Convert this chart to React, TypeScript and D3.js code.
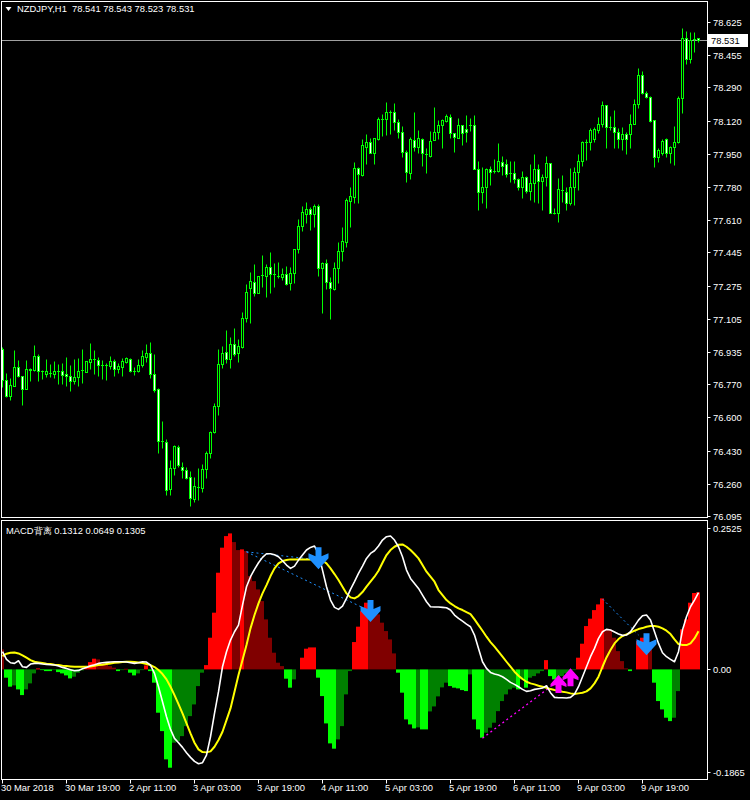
import React from 'react';
import * as d3 from 'd3';

// ---------- header texts ----------
const symbolTitle = 'NZDJPY,H1';
const quoteValues = ['78.541', '78.543', '78.523', '78.531'];
const indicatorTitle = 'MACD背离';
const indicatorValues = ['0.1312', '0.0649', '0.1305'];
const currentPrice = 78.531;

// ---------- OHLC (hourly bars) ----------
const openPrices = [
76.951,76.792,76.712,76.763,76.857,76.814,76.744,76.847,76.843,76.913,
76.840,76.824,76.826,76.824,76.840,76.840,76.821,76.811,76.788,76.807,
76.843,76.834,76.883,76.897,76.893,76.870,76.870,76.865,76.888,76.850,
76.860,76.886,76.900,76.836,76.836,76.870,76.911,76.930,76.823,76.744,
76.480,76.473,76.232,76.340,76.447,76.347,76.330,76.294,76.184,76.243,
76.238,76.335,76.417,76.524,76.657,76.872,76.934,76.901,76.975,76.929,
76.963,77.109,77.262,77.295,77.236,77.330,77.326,77.369,77.333,77.326,
77.321,77.333,77.290,77.338,77.461,77.581,77.642,77.667,77.642,77.681,
77.367,77.390,77.295,77.258,77.364,77.454,77.500,77.710,77.730,77.876,
77.842,77.986,78.009,77.953,78.026,78.130,78.130,78.166,78.163,78.114,
78.063,77.958,77.853,78.021,77.987,78.024,77.948,77.939,78.021,78.063,
78.098,78.120,78.137,78.055,78.033,78.098,78.076,78.098,78.098,77.871,
77.756,77.782,77.872,77.864,77.864,77.910,77.898,77.850,77.850,77.820,
77.782,77.830,77.761,77.799,77.871,77.811,77.833,77.901,77.646,77.646,
77.765,77.753,77.700,77.779,77.858,77.915,78.012,78.012,78.026,78.072,
78.103,78.200,78.089,78.086,78.060,78.024,78.050,78.050,78.101,78.204,
78.354,78.263,78.243,78.123,77.935,77.956,78.024,77.953,77.984,78.009,
78.234,78.542,78.434,78.536,78.541];
const highPrices = [
76.959,76.826,76.801,76.946,76.894,76.814,76.894,76.852,76.971,76.925,
76.843,76.900,76.874,76.889,76.874,76.879,76.910,76.869,76.900,76.905,
76.951,76.888,76.981,76.946,76.908,76.893,76.878,76.915,76.900,76.878,
76.905,76.908,76.905,76.857,76.900,76.946,76.976,76.987,76.925,76.749,
76.582,76.490,76.382,76.459,76.459,76.372,76.348,76.328,76.295,76.341,
76.362,76.428,76.531,76.674,76.951,76.966,77.048,77.011,77.058,77.002,
77.140,77.284,77.347,77.386,77.326,77.432,77.386,77.446,77.390,77.395,
77.364,77.376,77.370,77.461,77.615,77.683,77.703,77.679,77.695,77.692,
77.395,77.412,77.321,77.398,77.500,77.575,77.722,77.779,77.908,77.881,
78.026,78.051,78.029,78.033,78.137,78.154,78.214,78.174,78.209,78.127,
78.093,77.970,78.038,78.163,78.072,78.033,77.978,78.068,78.188,78.123,
78.128,78.152,78.154,78.058,78.132,78.098,78.149,78.132,78.149,77.913,
77.881,77.876,77.888,77.922,78.004,77.939,77.922,77.913,77.913,77.828,
77.864,77.836,77.898,77.948,77.898,77.847,77.939,77.901,77.671,77.828,
77.842,77.782,77.879,77.884,77.948,78.017,78.024,78.081,78.086,78.137,
78.221,78.200,78.144,78.174,78.081,78.089,78.063,78.152,78.229,78.391,
78.374,78.273,78.246,78.123,77.978,78.024,78.029,77.992,78.093,78.246,
78.593,78.580,78.575,78.572,78.543];
const lowPrices = [
76.755,76.707,76.690,76.763,76.809,76.664,76.744,76.787,76.840,76.788,
76.799,76.809,76.809,76.804,76.771,76.771,76.761,76.736,76.770,76.761,
76.777,76.834,76.848,76.823,76.814,76.797,76.792,76.848,76.814,76.828,
76.811,76.878,76.833,76.818,76.833,76.860,76.883,76.804,76.732,76.420,
76.442,76.200,76.200,76.306,76.345,76.292,76.284,76.148,76.167,76.178,
76.219,76.292,76.393,76.522,76.614,76.855,76.881,76.855,76.915,76.886,
76.954,77.089,77.084,77.224,77.236,77.270,77.219,77.236,77.270,77.316,
77.304,77.278,77.253,77.287,77.441,77.556,77.597,77.560,77.574,77.326,
77.137,77.256,77.106,77.253,77.290,77.401,77.475,77.577,77.697,77.700,
77.836,77.898,77.953,77.898,78.021,78.043,78.046,78.051,78.072,78.033,
77.935,77.807,77.821,77.964,77.953,77.889,77.853,77.935,78.021,78.026,
77.981,78.114,78.033,77.961,78.033,77.995,78.012,78.067,77.871,77.662,
77.697,77.674,77.790,77.850,77.858,77.842,77.833,77.807,77.799,77.765,
77.722,77.748,77.714,77.705,77.697,77.662,77.785,77.646,77.640,77.603,
77.705,77.662,77.688,77.688,77.765,77.889,77.918,77.970,78.012,78.058,
78.089,77.978,78.072,77.981,77.978,77.970,77.948,77.978,78.101,78.183,
78.256,78.234,78.114,77.884,77.910,77.944,77.935,77.901,77.893,78.004,
78.158,78.410,78.413,78.473,78.523];
const closePrices = [
76.792,76.712,76.766,76.857,76.814,76.744,76.847,76.845,76.913,76.840,
76.840,76.836,76.826,76.840,76.840,76.819,76.811,76.788,76.807,76.840,
76.843,76.888,76.898,76.897,76.870,76.870,76.870,76.888,76.850,76.864,
76.889,76.905,76.836,76.836,76.867,76.915,76.930,76.821,76.742,76.480,
76.478,76.229,76.340,76.454,76.355,76.330,76.292,76.186,76.248,76.243,
76.335,76.418,76.524,76.657,76.872,76.929,76.901,76.975,76.925,76.965,
77.109,77.243,77.301,77.236,77.326,77.330,77.372,77.333,77.333,77.326,
77.333,77.284,77.338,77.461,77.581,77.651,77.667,77.642,77.681,77.364,
77.391,77.295,77.262,77.364,77.451,77.504,77.714,77.734,77.876,77.847,
77.995,78.009,77.956,78.029,78.127,78.130,78.166,78.166,78.114,78.063,
77.958,77.858,78.024,77.987,78.029,77.953,77.948,78.017,78.063,78.098,
78.123,78.144,78.055,78.035,78.098,78.058,78.063,78.098,77.871,77.756,
77.782,77.872,77.858,77.864,77.913,77.889,77.845,77.850,77.821,77.782,
77.830,77.761,77.799,77.872,77.811,77.833,77.901,77.649,77.646,77.768,
77.765,77.700,77.779,77.858,77.915,78.009,78.012,78.072,78.076,78.103,
78.200,78.089,78.089,78.060,78.024,78.050,78.024,78.101,78.204,78.354,
78.263,78.239,78.118,77.935,77.970,78.017,77.953,77.984,78.009,78.237,
78.542,78.434,78.533,78.536,78.531];

// ---------- MACD divergence indicator ----------
const histValues = [
0.0340,-0.0141,-0.0294,-0.0272,-0.0340,-0.0437,-0.0340,-0.0238,-0.0068,0.0017,
-0.0012,-0.0029,-0.0029,-0.0012,-0.0046,-0.0068,-0.0102,-0.0153,-0.0124,-0.0056,
-0.0017,0.0056,0.0124,0.0182,0.0170,0.0114,0.0085,0.0056,0.0029,-0.0029,
-0.0012,0.0009,-0.0056,-0.0102,-0.0068,-0.0012,0.0068,-0.0029,-0.0226,-0.0737,
-0.1050,-0.1531,-0.1673,-0.1247,-0.1220,-0.1135,-0.0965,-0.0795,-0.0596,-0.0284,
-0.0056,0.0073,0.0539,0.0965,0.1645,0.2071,0.2268,0.2314,0.2166,0.2030,
0.2042,0.2013,0.1588,0.1502,0.1361,0.1162,0.0851,0.0539,0.0284,0.0114,
0.0056,-0.0158,-0.0311,-0.0170,0,0.0199,0.0352,0.0374,0.0374,-0.0141,
-0.0454,-0.0919,-0.1259,-0.1349,-0.1191,-0.0965,-0.0425,-0.0029,0.0465,0.0727,
0.0992,0.1135,0.1021,0.0965,0.0936,0.0795,0.0652,0.0510,0.0272,-0.0056,
-0.0396,-0.0851,-0.0936,-0.1004,-0.0987,-0.1021,-0.1021,-0.0715,-0.0630,-0.0459,
-0.0306,-0.0226,-0.0284,-0.0311,-0.0323,-0.0352,-0.0369,-0.0085,-0.0851,-0.1021,
-0.1162,-0.1077,-0.0992,-0.0907,-0.0710,-0.0539,-0.0425,-0.0340,-0.0311,-0.0340,
-0.0170,-0.0311,-0.0141,-0.0114,-0.0068,-0.0029,0.0158,-0.0114,-0.0170,-0.0141,
-0.0114,-0.0068,-0.0029,-0.0012,0.0199,0.0437,0.0737,0.0863,0.1009,0.1106,
0.1208,0.0681,0.0675,0.0539,0.0311,0.0141,0.0017,-0.0029,0,0.0482,
0.0539,0.0596,0.0369,-0.0226,-0.0539,-0.0681,-0.0822,-0.0880,-0.0822,-0.0369,
0.0681,0.0851,0.1135,0.1300,0.1312];
const macdLine = [
0.0301,0.0170,0.0113,0.0102,0.0147,0.0045,0.0034,0.0091,0.0102,0.0102,
0.0091,0.0085,0.0079,0.0074,0.0057,0.0034,0.0017,-0.0006,-0.0023,-0.0017,
0.0011,0.0034,0.0062,0.0079,0.0102,0.0113,0.0119,0.0125,0.0130,0.0130,
0.0130,0.0125,0.0113,0.0102,0.0113,0.0130,0.0125,0.0074,-0.0068,-0.0295,
-0.0550,-0.0805,-0.1021,-0.1174,-0.1248,-0.1327,-0.1418,-0.1497,-0.1566,-0.1605,
-0.1588,-0.1458,-0.1146,-0.0749,-0.0380,0.0045,0.0301,0.0499,0.0641,0.0754,
0.1095,0.1407,0.1577,0.1702,0.1815,0.1906,0.1968,0.1968,0.1951,0.1917,
0.1849,0.1775,0.1719,0.1758,0.1860,0.1946,0.2031,0.2076,0.2099,0.1974,
0.1690,0.1407,0.1180,0.1055,0.1021,0.1078,0.1208,0.1361,0.1492,0.1634,
0.1758,0.1889,0.1974,0.2019,0.2099,0.2201,0.2258,0.2269,0.2201,0.2087,
0.1917,0.1690,0.1548,0.1463,0.1378,0.1265,0.1151,0.1066,0.1061,0.1061,
0.1055,0.1049,0.1010,0.0925,0.0868,0.0822,0.0771,0.0726,0.0584,0.0357,
0.0130,0.0017,-0.0051,-0.0079,-0.0096,-0.0125,-0.0170,-0.0221,-0.0255,-0.0295,
-0.0340,-0.0374,-0.0363,-0.0340,-0.0329,-0.0318,-0.0278,-0.0397,-0.0476,-0.0482,
-0.0482,-0.0488,-0.0476,-0.0420,-0.0295,-0.0125,0.0045,0.0216,0.0357,0.0528,
0.0641,0.0681,0.0669,0.0635,0.0601,0.0579,0.0584,0.0641,0.0737,0.0839,
0.0913,0.0925,0.0839,0.0641,0.0442,0.0284,0.0216,0.0170,0.0130,0.0301,
0.0669,0.0896,0.1066,0.1180,0.1305];
const signalLine = [
0.0227,0.0267,0.0284,0.0289,0.0272,0.0238,0.0199,0.0159,0.0130,0.0119,
0.0108,0.0096,0.0091,0.0079,0.0074,0.0062,0.0057,0.0051,0.0045,0.0045,
0.0045,0.0045,0.0051,0.0062,0.0074,0.0079,0.0091,0.0102,0.0113,0.0119,
0.0125,0.0130,0.0130,0.0125,0.0119,0.0108,0.0091,0.0074,0.0040,-0.0011,
-0.0079,-0.0170,-0.0295,-0.0437,-0.0590,-0.0749,-0.0919,-0.1089,-0.1248,-0.1361,
-0.1407,-0.1412,-0.1395,-0.1316,-0.1202,-0.1061,-0.0862,-0.0664,-0.0380,-0.0096,
0.0159,0.0414,0.0698,0.0925,0.1123,0.1293,0.1435,0.1588,0.1719,0.1804,
0.1843,0.1860,0.1872,0.1872,0.1872,0.1872,0.1872,0.1872,0.1872,0.1866,
0.1849,0.1804,0.1719,0.1622,0.1520,0.1407,0.1293,0.1225,0.1208,0.1248,
0.1316,0.1407,0.1492,0.1577,0.1679,0.1815,0.1946,0.2031,0.2087,0.2121,
0.2127,0.2087,0.2031,0.1963,0.1889,0.1775,0.1662,0.1577,0.1492,0.1350,
0.1265,0.1180,0.1123,0.1078,0.1038,0.1010,0.0975,0.0942,0.0851,0.0754,
0.0658,0.0556,0.0465,0.0386,0.0301,0.0216,0.0130,0.0045,-0.0040,-0.0108,
-0.0164,-0.0210,-0.0238,-0.0255,-0.0278,-0.0295,-0.0312,-0.0335,-0.0352,-0.0363,
-0.0380,-0.0391,-0.0408,-0.0420,-0.0408,-0.0397,-0.0374,-0.0323,-0.0238,-0.0125,
0.0045,0.0204,0.0329,0.0442,0.0516,0.0567,0.0596,0.0624,0.0658,0.0686,
0.0703,0.0726,0.0737,0.0737,0.0726,0.0698,0.0658,0.0601,0.0510,0.0431,
0.0414,0.0414,0.0442,0.0527,0.0649];

// divergence signals: [bar, value]
const downArrowBars = [79, 92, 161];
const downArrowValues = [0.208, 0.118, 0.0614];
const upArrowBars = [139, 142];
const upArrowValues = [-0.0095, 0.0019];
const bearDivStartBars = [61, 61, 150];
const bearDivStartValues = [0.200, 0.200, 0.1198];
const bearDivEndBars = [77, 91, 159];
const bearDivEndValues = [0.188, 0.102, 0.0585];
const bullDivStartBars = [120];
const bullDivStartValues = [-0.117];
const bullDivEndBars = [137];
const bullDivEndValues = [-0.0294];

// ---------- axes ----------
const priceTicks = [78.625, 78.455, 78.290, 78.120, 77.950, 77.780, 77.610, 77.445,
  77.275, 77.105, 76.935, 76.770, 76.600, 76.430, 76.260, 76.095];
const macdTicks = [0.2525, 0, -0.1865];
const macdTickLabels = ['0.2525', '0.00', '-0.1865'];
const timeTickBars = [0, 16, 32, 48, 64, 80, 96, 112, 128, 144, 160];
const timeTickLabels = ['30 Mar 2018', '30 Mar 19:00', '2 Apr 11:00', '3 Apr 03:00',
  '3 Apr 19:00', '4 Apr 11:00', '5 Apr 03:00', '5 Apr 19:00', '6 Apr 11:00',
  '9 Apr 03:00', '9 Apr 19:00'];

// ---------- layout ----------
const W = 750;
const H = 800;
const L = 1.5;
const R = 707.5;
const mainTop = 1.5;
const mainBottom = 517.5;
const macdTop = 520.5;
const macdBottom = 779.5;
const FONT = "'Liberation Sans', Arial, sans-serif";
const FS = 9.4;

const N = closePrices.length;
const x = d3.scaleLinear().domain([0, N - 1]).range([2.5, 2.5 + 4 * (N - 1)]);
const yP = d3.scaleLinear().domain([76.095, 78.625]).range([516, 22]);
const yM = d3.scaleLinear().domain([-0.1865, 0.2525]).range([779, 521]);

const GREEN = '#00FF00';

function histColor(i: number): string {
  const v = histValues[i];
  const p = i > 0 ? histValues[i - 1] : Infinity;
  if (v >= 0) return v >= p ? '#FF0000' : '#800000';
  return v <= p ? '#00FF00' : '#008000';
}

function downArrowPath(cx: number, top: number): string {
  return `M${cx - 3},${top} L${cx + 3},${top} L${cx + 3},${top + 9} L${cx + 10},${top + 6} L${cx + 10},${top + 11} L${cx},${top + 22} L${cx - 10},${top + 11} L${cx - 10},${top + 6} L${cx - 3},${top + 9} Z`;
}
function upArrowPath(cx: number, tip: number): string {
  return `M${cx},${tip} L${cx + 8},${tip + 9} L${cx + 8},${tip + 12} L${cx + 3},${tip + 10} L${cx + 3},${tip + 18} L${cx - 3},${tip + 18} L${cx - 3},${tip + 10} L${cx - 8},${tip + 12} L${cx - 8},${tip + 9} Z`;
}

export default function App() {
  const macdPath = d3.line<number>().x((_, i) => x(i)).y((v) => yM(v))(macdLine) || '';
  const signalPath = d3.line<number>().x((_, i) => x(i)).y((v) => yM(v))(signalLine) || '';

  const candles = closePrices.map((c, i) => {
    const o = openPrices[i];
    const cx = x(i);
    const yo = yP(o);
    const yc = yP(c);
    const top = Math.round(Math.min(yo, yc));
    const bot = Math.round(Math.max(yo, yc));
    const wick = (
      <line key={`w${i}`} x1={cx} x2={cx} y1={Math.round(yP(highPrices[i])) + 0.5}
        y2={Math.round(yP(lowPrices[i])) + 0.5} stroke={GREEN} strokeWidth={1} />
    );
    let body;
    if (bot - top < 1) {
      body = <line key={`b${i}`} x1={cx - 1.5} x2={cx + 1.5} y1={top + 0.5} y2={top + 0.5} stroke={GREEN} strokeWidth={1} />;
    } else {
      body = <rect key={`b${i}`} x={cx - 1} y={top + 0.5} width={2} height={bot - top}
        fill={c < o ? '#FFFFFF' : '#000000'} stroke={GREEN} strokeWidth={1} />;
    }
    return <g key={i}>{wick}{body}</g>;
  });

  const zeroY = yM(0);
  const bars = histValues.map((v, i) => {
    if (v === 0) return null;
    const yv = yM(v);
    const x0 = x(i) - 2.5;
    return <rect key={i} x={x0} y={Math.min(yv, zeroY)} width={4} height={Math.abs(yv - zeroY)} fill={histColor(i)} />;
  });

  const textStyle: React.CSSProperties = { whiteSpace: 'pre' };

  return (
    <svg width={W} height={H} style={{ position: 'fixed', left: 0, top: 0, background: '#000' }}
      fontFamily={FONT} fontSize={FS}>
      <defs>
        <clipPath id="clipMain"><rect x={L} y={mainTop} width={R - L} height={mainBottom - mainTop} /></clipPath>
        <clipPath id="clipMacd"><rect x={L} y={macdTop} width={R - L} height={macdBottom - macdTop} /></clipPath>
      </defs>
      <rect x={0} y={0} width={W} height={H} fill="#000" />

      {/* main price panel */}
      <g clipPath="url(#clipMain)">
        <line x1={L} x2={R} y1={Math.round(yP(currentPrice)) + 0.5} y2={Math.round(yP(currentPrice)) + 0.5} stroke="#A0A0A0" strokeWidth={1} />
        {candles}
      </g>

      {/* MACD panel */}
      <g clipPath="url(#clipMacd)">
        {bars}
        {bearDivStartBars.map((b, i) => (
          <line key={`bd${i}`} x1={x(b)} y1={yM(bearDivStartValues[i])} x2={x(bearDivEndBars[i])} y2={yM(bearDivEndValues[i])}
            stroke="#1E90FF" strokeWidth={1} strokeDasharray="2,3" />
        ))}
        {bullDivStartBars.map((b, i) => (
          <line key={`ud${i}`} x1={x(b)} y1={yM(bullDivStartValues[i])} x2={x(bullDivEndBars[i])} y2={yM(bullDivEndValues[i])}
            stroke="#FF00FF" strokeWidth={1.3} strokeDasharray="2,3" />
        ))}
        <path d={signalPath} fill="none" stroke="#FFFF00" strokeWidth={2} strokeLinejoin="round" />
        <path d={macdPath} fill="none" stroke="#FFFFFF" strokeWidth={1.6} strokeLinejoin="round" />
        {downArrowBars.map((b, i) => (
          <path key={`da${i}`} d={downArrowPath(x(b), yM(downArrowValues[i]))} fill="#1E90FF" />
        ))}
        {upArrowBars.map((b, i) => (
          <path key={`ua${i}`} d={upArrowPath(x(b), yM(upArrowValues[i]))} fill="#FF00FF" />
        ))}
      </g>

      {/* panel borders */}
      <rect x={L} y={mainTop} width={R - L} height={mainBottom - mainTop} fill="none" stroke="#FFFFFF" strokeWidth={1} />
      <rect x={L} y={macdTop} width={R - L} height={macdBottom - macdTop} fill="none" stroke="#FFFFFF" strokeWidth={1} />

      {/* price axis */}
      {priceTicks.map((p) => {
        const yy = Math.round(yP(p)) + 0.5;
        return (
          <g key={`pt${p}`}>
            <line x1={R} x2={R + 3} y1={yy} y2={yy} stroke="#FFFFFF" />
            <text x={713} y={yy} dy="0.35em" fill="#FFFFFF">{p.toFixed(3)}</text>
          </g>
        );
      })}
      {/* current price label */}
      <rect x={708} y={Math.round(yP(currentPrice)) - 6} width={40} height={13} fill="#FFFFFF" />
      <text x={711} y={Math.round(yP(currentPrice)) + 0.5} dy="0.35em" fill="#000000">{currentPrice.toFixed(3)}</text>

      {/* macd axis */}
      {macdTicks.map((v, i) => {
        const yy = Math.round(Math.max(528, Math.min(772, yM(v)))) + 0.5;
        return (
          <g key={`mt${i}`}>
            <line x1={R} x2={R + 3} y1={yy} y2={yy} stroke="#FFFFFF" />
            <text x={713} y={yy} dy="0.35em" fill="#FFFFFF">{macdTickLabels[i]}</text>
          </g>
        );
      })}

      {/* time axis */}
      {timeTickBars.map((b, i) => (
        <g key={`tt${i}`}>
          <line x1={x(b)} x2={x(b)} y1={macdBottom} y2={macdBottom + 4} stroke="#FFFFFF" />
          <text x={x(b) - 1.5} y={788} dy="0.35em" fill="#FFFFFF">{timeTickLabels[i]}</text>
        </g>
      ))}

      {/* headers */}
      <path d="M5.5,7 L11.5,7 L8.5,11 Z" fill="#FFFFFF" />
      <text x={17} y={9} dy="0.35em" fill="#FFFFFF" style={textStyle}>{`${symbolTitle}  ${quoteValues.join(' ')}`}</text>
      <text x={6} y={531} dy="0.35em" fill="#FFFFFF" style={textStyle}>{`${indicatorTitle} ${indicatorValues.join(' ')}`}</text>
    </svg>
  );
}
